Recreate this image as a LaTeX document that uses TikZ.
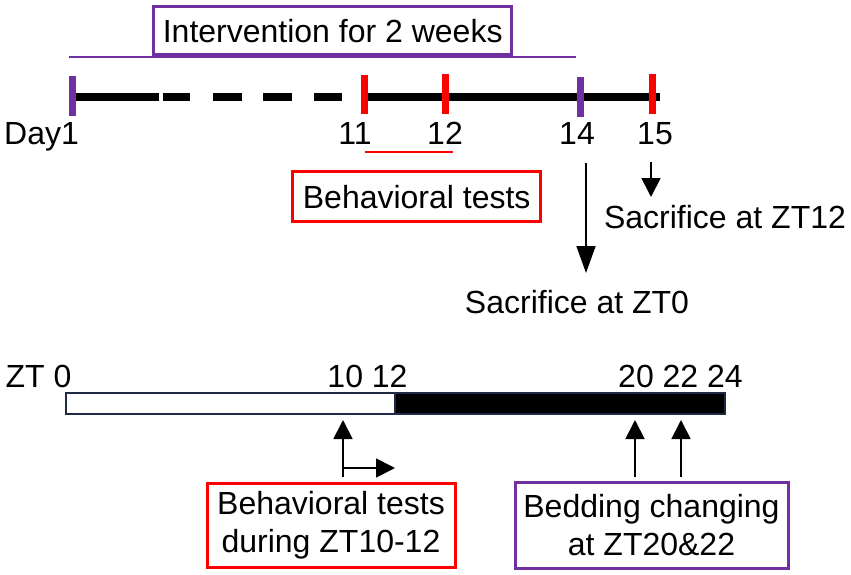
\documentclass[tikz,border=0pt]{standalone}
\usepackage{fontspec}
\setmainfont{Liberation Sans}
\usetikzlibrary{arrows.meta}
\definecolor{ppl}{HTML}{7030A0}
\definecolor{navy}{HTML}{1F2A44}
\begin{document}
\begin{tikzpicture}[x=1pt,y=-1pt,
  txt/.style={font=\fontsize{32}{38}\selectfont, inner sep=0pt},
  lbl/.style={txt, anchor=base},
  pbox/.style={txt, draw=ppl, line width=3pt, align=center},
  rbox/.style={txt, draw=red, line width=3pt, align=center},
  tl/.style={line width=8pt, black},
  ptick/.style={line width=7pt, ppl},
  rtick/.style={line width=7pt, red},
  arr/.style={line width=1.8pt, -{Triangle[length=19pt,width=19pt]}},
  larr/.style={line width=1.8pt, -{Triangle[length=27pt,width=19pt]}}]
\useasboundingbox (0,0) rectangle (851,575);

% top section
\node[pbox, minimum width=358pt, minimum height=48pt] (interv) at (332.7,31) {Intervention for 2 weeks};
\coordinate (pl1) at (69,57);
\coordinate (pl2) at (576,57);
\draw[ppl, line width=2pt] (pl1) -- (pl2);

\coordinate (d1) at (72,97);
\coordinate (s1) at (159,97);
\coordinate (s2) at (366,97);
\coordinate (e1) at (660,97);
\draw[tl] (d1) -- (s1);
\draw[tl] (163,97) -- (190,97);
\draw[tl] (213,97) -- (242,97);
\draw[tl] (263,97) -- (292,97);
\draw[tl] (314,97) -- (342,97);
\draw[tl] (s2) -- (e1);

\draw[ptick] (72.5,76) -- (72.5,116);
\draw[ptick] (580,77) -- (580,117);
\draw[rtick] (364,75) -- (364,114);
\draw[rtick] (445,74) -- (445,114);
\draw[rtick] (652,74) -- (652,114);

\node[lbl] (day1) at (41.5,145) {Day1};
\node[lbl] (n11) at (355,145) {11};
\node[lbl] (n12) at (445,145) {12};
\node[lbl] (n14) at (577,145) {14};
\node[lbl] (n15) at (655,145) {15};

\coordinate (u1) at (365,152);
\coordinate (u2) at (453,152);
\draw[red, line width=1.5pt] (u1) -- (u2);

\node[rbox, minimum width=248pt, minimum height=50pt] (beh) at (416.7,196.7) {Behavioral tests};

\coordinate (a14s) at (586,163);
\coordinate (a14e) at (586,273);
\draw[larr] (a14s) -- (a14e);
\node[lbl] (sac0) at (577,313) {Sacrifice at ZT0};

\coordinate (a15s) at (651,162);
\coordinate (a15e) at (651,197);
\draw[arr] (a15s) -- (a15e);
\node[lbl] (sac12) at (725,228) {Sacrifice at ZT12};

% bottom section
\node[lbl] (zt0) at (38.5,387) {ZT 0};
\node[lbl] (z1012) at (367.5,387) {10 12};
\node[lbl] (z2024) at (680.5,387) {20 22 24};

\draw[navy, line width=2pt, fill=white] (66,393) rectangle (395,414);
\draw[navy, line width=2pt, fill=black] (395,393) rectangle (725,414);

\coordinate (b10s) at (343,477);
\coordinate (b10e) at (343,420);
\coordinate (b10r) at (395,468);
\coordinate (b10b) at (343,468);
\draw[arr] (b10s) -- (b10e);
\draw[arr] (b10b) -- (b10r);

\coordinate (b20s) at (635,477);
\coordinate (b20e) at (635,420);
\coordinate (b22s) at (681,477);
\coordinate (b22e) at (681,420);
\draw[arr] (b20s) -- (b20e);
\draw[arr] (b22s) -- (b22e);

\node[rbox, minimum width=248pt, minimum height=84pt] (beh2) at (331,525) {Behavioral tests\\during ZT10-12};
\node[pbox, minimum width=273pt, minimum height=86pt] (bed) at (651.5,525) {Bedding changing\\at ZT20\&22};
\end{tikzpicture}
\end{document}
